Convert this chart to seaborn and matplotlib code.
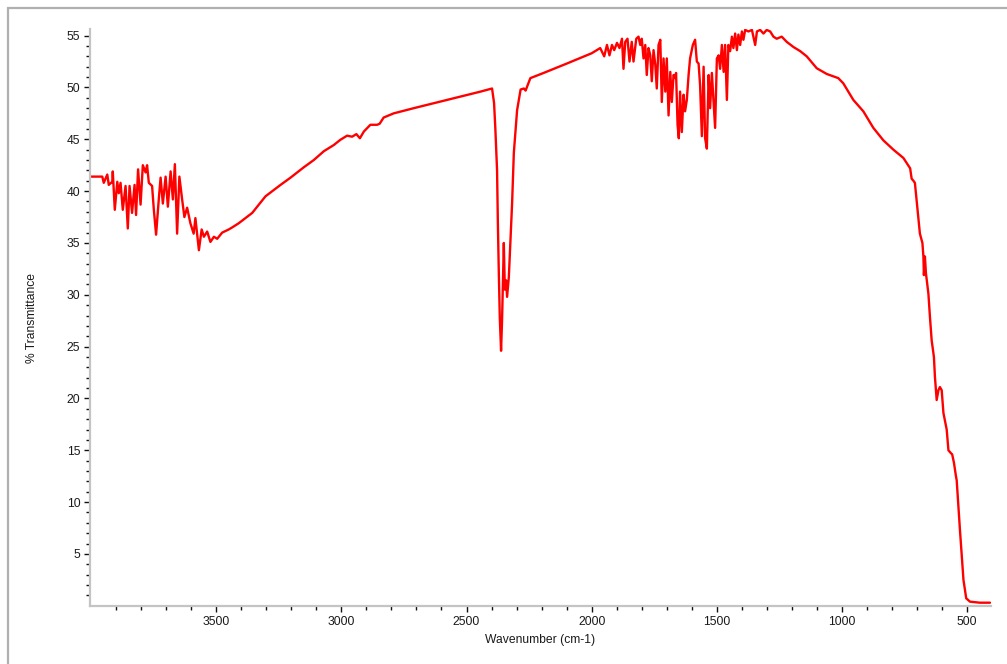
import numpy as np
import pandas as pd
import matplotlib
matplotlib.use("Agg")
import matplotlib.pyplot as plt
from matplotlib.patches import Rectangle
import seaborn as sns

# IR spectrum
wavenumber = [
    4000, 3970, 3955, 3949, 3935, 3929, 3915, 3913, 3905, 3895, 3889, 3882,
    3873, 3862, 3853, 3846, 3836, 3826, 3820, 3812, 3802, 3793, 3782, 3776,
    3769, 3756, 3749, 3740, 3729, 3722, 3713, 3702, 3693, 3682, 3673, 3665,
    3656, 3647, 3636, 3627, 3616, 3603, 3590, 3583, 3569, 3558, 3549, 3536,
    3523, 3509, 3496, 3476, 3450, 3436, 3410, 3356, 3303, 3243, 3203, 3150,
    3110, 3070, 3030, 3004, 2977, 2957, 2940, 2926, 2910, 2884, 2857, 2847,
    2831, 2791, 2711, 2577, 2444, 2398, 2390, 2385, 2378, 2375, 2371, 2367,
    2362, 2358, 2351, 2347, 2342, 2338, 2331, 2324, 2318, 2311, 2298, 2284,
    2271, 2264, 2245, 2192, 2100, 2000, 1966, 1950, 1939, 1929, 1919, 1910,
    1899, 1889, 1879, 1873, 1866, 1857, 1849, 1840, 1833, 1822, 1813, 1806,
    1800, 1793, 1786, 1780, 1773, 1766, 1760, 1753, 1746, 1740, 1733, 1726,
    1720, 1713, 1706, 1700, 1693, 1686, 1680, 1673, 1666, 1663, 1657, 1652,
    1647, 1640, 1633, 1627, 1620, 1613, 1607, 1596, 1587, 1580, 1573, 1567,
    1560, 1553, 1547, 1540, 1533, 1527, 1520, 1513, 1507, 1500, 1493, 1487,
    1480, 1473, 1467, 1460, 1454, 1447, 1440, 1434, 1427, 1420, 1414, 1407,
    1400, 1394, 1387, 1374, 1360, 1347, 1340, 1327, 1314, 1301, 1287, 1274,
    1261, 1241, 1221, 1194, 1167, 1141, 1101, 1061, 1015, 995, 955, 915,
    875, 835, 795, 755, 728, 722, 715, 709, 702, 695, 689, 679, 675, 673,
    669, 665, 655, 649, 642, 633, 629, 622, 615, 609, 602, 595, 582, 575,
    568, 560, 553, 545, 542, 529, 515, 504, 489, 450, 409,
]
transmittance = [
    41.4, 41.4, 41.4, 40.8, 41.6, 40.6, 40.9, 41.9, 38.2, 40.9, 39.8, 40.8,
    38.2, 40.5, 36.4, 40.5, 37.9, 40.6, 37.7, 42.1, 38.7, 42.5, 41.8, 42.5,
    40.8, 40.5, 38.2, 35.8, 39.3, 41.3, 38.8, 41.4, 38.5, 41.9, 39.2, 42.6,
    35.9, 41.4, 39.2, 37.5, 38.4, 36.9, 35.9, 37.4, 34.3, 36.3, 35.6, 36.1,
    35.1, 35.6, 35.4, 36.0, 36.3, 36.5, 36.9, 37.9, 39.5, 40.6, 41.3, 42.3,
    43.0, 43.85, 44.45, 44.95, 45.35, 45.25, 45.5, 45.1, 45.75, 46.4, 46.4, 46.5,
    47.1, 47.5, 48.0, 48.8, 49.6, 49.9, 48.5, 46.1, 42.0, 37.2, 32.1, 27.7,
    24.6, 27.6, 35.0, 30.5, 31.4, 29.8, 31.7, 35.6, 38.8, 43.7, 47.8, 49.8,
    49.9, 49.7, 50.9, 51.4, 52.3, 53.3, 53.8, 53.0, 54.1, 53.1, 54.1, 53.6,
    54.3, 53.8, 54.7, 51.8, 54.4, 54.7, 52.5, 54.4, 52.5, 54.7, 54.9, 54.1,
    54.7, 52.8, 54.1, 51.2, 53.8, 53.1, 50.6, 53.6, 52.2, 49.9, 54.1, 54.6,
    48.6, 52.8, 49.6, 52.8, 47.3, 51.5, 48.6, 51.2, 50.9, 51.4, 46.4, 45.1,
    49.6, 45.7, 49.3, 47.7, 48.8, 51.2, 52.8, 54.1, 54.6, 52.5, 52.3, 50.2,
    45.3, 52.0, 45.1, 44.1, 51.2, 48.0, 51.4, 48.6, 46.1, 52.8, 53.1, 51.8,
    54.1, 51.5, 54.1, 48.8, 54.1, 53.5, 54.9, 53.8, 55.2, 53.6, 55.1, 54.1,
    55.4, 54.6, 55.55, 55.4, 55.55, 54.1, 55.4, 55.55, 55.2, 55.55, 55.4, 54.9,
    54.7, 54.9, 54.4, 53.9, 53.5, 53.0, 51.85, 51.3, 50.9, 50.4, 48.8, 47.7,
    46.1, 44.9, 44.0, 43.2, 42.2, 41.2, 41.0, 40.8, 39.1, 37.5, 35.9, 35.0, 33.7, 31.9,
    33.7, 32.1, 30.1, 27.9, 25.6, 24.0, 22.1, 19.85, 20.8, 21.1, 20.8, 18.6, 17.0, 15.0,
    14.8, 14.6, 13.8, 12.5, 12.1, 7.3, 2.5, 0.72, 0.4, 0.3, 0.3,
]

df = pd.DataFrame({"Wavenumber": wavenumber, "Transmittance": transmittance})

sns.set_style("white")
plt.rcParams["font.family"] = ["Liberation Sans", "DejaVu Sans"]

fig = plt.figure(figsize=(10.07, 6.64), dpi=100)
ax = fig.add_axes([90 / 1007, 1 - 605.8 / 664, 900.5 / 1007, 576.4 / 664])

sns.lineplot(data=df, x="Wavenumber", y="Transmittance", sort=False,
             estimator=None, color="#ff0000", linewidth=1.7, ax=ax)

ax.set_xlim(4004, 407)
ax.set_ylim(0, 55.6)

ax.set_xticks([3500, 3000, 2500, 2000, 1500, 1000, 500])
ax.set_xticks([w for w in range(500, 4000, 100) if w % 500 != 0], minor=True)
ax.set_yticks(range(5, 56, 5))
ax.set_yticks([t for t in range(1, 55) if t % 5 != 0], minor=True)

for side in ["top", "right"]:
    ax.spines[side].set_visible(False)
for side in ["left", "bottom"]:
    ax.spines[side].set_color("#c4c4c4")
    ax.spines[side].set_linewidth(1.6)

ax.tick_params(which="both", bottom=True, left=True, top=False, right=False)
ax.tick_params(which="major", direction="out", length=4.5, width=1,
               color="#111111", labelsize=8.7, labelcolor="#1a1a1a", pad=2.5)
ax.tick_params(which="minor", direction="out", length=2.6, width=1,
               color="#111111")

ax.set_xlabel("Wavenumber (cm-1)", fontsize=8.7, color="#1a1a1a")
ax.set_ylabel("% Transmittance", fontsize=8.7, color="#1a1a1a")
ax.xaxis.set_label_coords(0.5, -0.049)
ax.yaxis.set_label_coords(-0.0575, 0.5)

# grey frame around the plot window
fig.add_artist(Rectangle((8 / 1007, -0.1), 1.2, (664 - 8) / 664 + 0.1,
                         transform=fig.transFigure, fill=False,
                         edgecolor="#b0b0b0", linewidth=1.6))

fig.savefig("out.png", dpi=100)
